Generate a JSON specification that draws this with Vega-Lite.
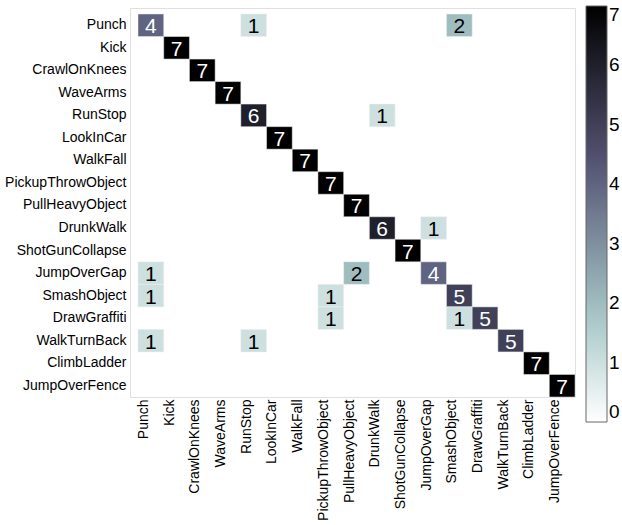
{
  "$schema": "https://vega.github.io/schema/vega-lite/v6.json",
  "width": 445,
  "height": 389,
  "autosize": "none",
  "padding": {"left": 130, "top": 8, "right": 47, "bottom": 128},
  "background": "white",
  "config": {
    "font": "Liberation Sans",
    "view": {"stroke": "#e0e0e0", "strokeWidth": 1}
  },
  "datasets": {
    "cm": [
      {"actual": "Punch", "predicted": "Punch", "v": 4},
      {"actual": "Punch", "predicted": "RunStop", "v": 1},
      {"actual": "Punch", "predicted": "SmashObject", "v": 2},
      {"actual": "Kick", "predicted": "Kick", "v": 7},
      {"actual": "CrawlOnKnees", "predicted": "CrawlOnKnees", "v": 7},
      {"actual": "WaveArms", "predicted": "WaveArms", "v": 7},
      {"actual": "RunStop", "predicted": "RunStop", "v": 6},
      {"actual": "RunStop", "predicted": "DrunkWalk", "v": 1},
      {"actual": "LookInCar", "predicted": "LookInCar", "v": 7},
      {"actual": "WalkFall", "predicted": "WalkFall", "v": 7},
      {"actual": "PickupThrowObject", "predicted": "PickupThrowObject", "v": 7},
      {"actual": "PullHeavyObject", "predicted": "PullHeavyObject", "v": 7},
      {"actual": "DrunkWalk", "predicted": "DrunkWalk", "v": 6},
      {"actual": "DrunkWalk", "predicted": "JumpOverGap", "v": 1},
      {"actual": "ShotGunCollapse", "predicted": "ShotGunCollapse", "v": 7},
      {"actual": "JumpOverGap", "predicted": "Punch", "v": 1},
      {"actual": "JumpOverGap", "predicted": "PullHeavyObject", "v": 2},
      {"actual": "JumpOverGap", "predicted": "JumpOverGap", "v": 4},
      {"actual": "SmashObject", "predicted": "Punch", "v": 1},
      {"actual": "SmashObject", "predicted": "PickupThrowObject", "v": 1},
      {"actual": "SmashObject", "predicted": "SmashObject", "v": 5},
      {"actual": "DrawGraffiti", "predicted": "PickupThrowObject", "v": 1},
      {"actual": "DrawGraffiti", "predicted": "SmashObject", "v": 1},
      {"actual": "DrawGraffiti", "predicted": "DrawGraffiti", "v": 5},
      {"actual": "WalkTurnBack", "predicted": "Punch", "v": 1},
      {"actual": "WalkTurnBack", "predicted": "RunStop", "v": 1},
      {"actual": "WalkTurnBack", "predicted": "WalkTurnBack", "v": 5},
      {"actual": "ClimbLadder", "predicted": "ClimbLadder", "v": 7},
      {"actual": "JumpOverFence", "predicted": "JumpOverFence", "v": 7}
    ]
  },
  "data": {"name": "cm"},
  "encoding": {
    "x": {
      "field": "predicted",
      "type": "nominal",
      "title": null,
      "scale": {
        "domain": ["Punch", "Kick", "CrawlOnKnees", "WaveArms", "RunStop", "LookInCar", "WalkFall", "PickupThrowObject", "PullHeavyObject", "DrunkWalk", "ShotGunCollapse", "JumpOverGap", "SmashObject", "DrawGraffiti", "WalkTurnBack", "ClimbLadder", "JumpOverFence"],
        "paddingInner": 0,
        "paddingOuter": 0.156,
        "align": 1
      },
      "axis": {
        "orient": "bottom",
        "domain": false,
        "ticks": false,
        "labelAngle": 270,
        "labelAlign": "right",
        "labelBaseline": "bottom",
        "labelPadding": 2,
        "labelFontSize": 14,
        "labelColor": "#000000",
        "labelFont": "Liberation Sans",
        "grid": false
      }
    },
    "y": {
      "field": "actual",
      "type": "nominal",
      "title": null,
      "scale": {
        "domain": ["Punch", "Kick", "CrawlOnKnees", "WaveArms", "RunStop", "LookInCar", "WalkFall", "PickupThrowObject", "PullHeavyObject", "DrunkWalk", "ShotGunCollapse", "JumpOverGap", "SmashObject", "DrawGraffiti", "WalkTurnBack", "ClimbLadder", "JumpOverFence"],
        "paddingInner": 0,
        "paddingOuter": 0.133,
        "align": 1
      },
      "axis": {
        "domain": false,
        "ticks": false,
        "labelPadding": 4,
        "labelFontSize": 14,
        "labelColor": "#000000",
        "labelFont": "Liberation Sans",
        "grid": false
      }
    }
  },
  "layer": [
    {
      "mark": {"type": "rect", "stroke": "#eeeeee", "strokeWidth": 0.5},
      "encoding": {
        "color": {
          "field": "v",
          "type": "quantitative",
          "title": null,
          "scale": {
            "type": "linear",
            "domain": [0, 1.75, 4.375, 7],
            "range": ["#ffffff", "#a7c7c7", "#545474", "#000000"],
            "interpolate": "rgb"
          },
          "legend": {
            "orient": "none",
            "legendX": 456,
            "legendY": -2,
            "direction": "vertical",
            "gradientLength": 416,
            "gradientThickness": 21,
            "gradientStrokeColor": "#666666",
            "gradientStrokeWidth": 1,
            "values": [0, 1, 2, 3, 4, 5, 6, 7],
            "labelFontSize": 19,
            "labelColor": "#000000",
            "labelFont": "Liberation Sans",
            "labelOffset": 2,
            "padding": 0
          }
        }
      }
    },
    {
      "mark": {"type": "text", "fontSize": 21, "font": "Liberation Sans", "baseline": "middle", "dy": 2},
      "encoding": {
        "text": {"field": "v", "type": "quantitative"},
        "color": {
          "condition": {"test": "datum.v >= 4", "value": "#ffffff"},
          "value": "#000000"
        }
      }
    }
  ]
}
